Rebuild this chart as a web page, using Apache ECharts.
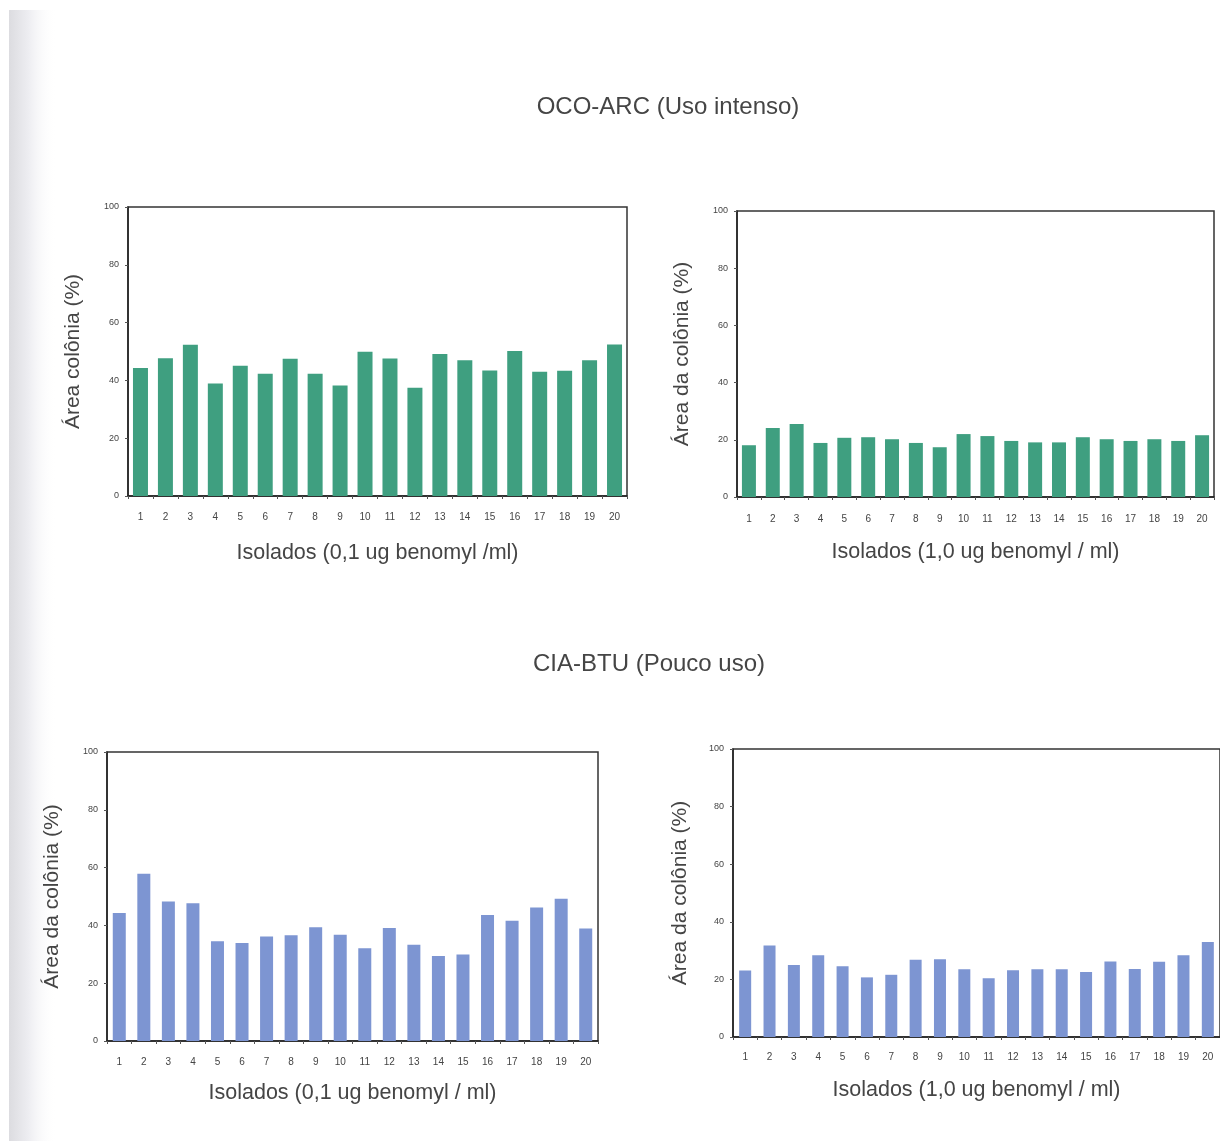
<!DOCTYPE html>
<html>
<head>
<meta charset="utf-8">
<script src="https://cdn.jsdelivr.net/npm/echarts@6/dist/echarts.min.js"></script>
<style>
html,body{margin:0;padding:0;background:#fff;}
#chart{width:1220px;height:1141px;}
</style>
</head>
<body>
<div id="chart"></div>
<script>
var categories = ['1','2','3','4','5','6','7','8','9','10','11','12','13','14','15','16','17','18','19','20'];
var yTicks = [0, 20, 40, 60, 80, 100];

var ocoArc01 = [44.3, 47.7, 52.3, 38.9, 45.1, 42.3, 47.5, 42.3, 38.2, 49.9, 47.6, 37.5, 49.1, 47.0, 43.4, 50.2, 43.0, 43.3, 47.0, 52.4];
var ocoArc10 = [18.1, 24.1, 25.5, 18.9, 20.7, 20.9, 20.2, 18.9, 17.4, 22.0, 21.3, 19.6, 19.1, 19.1, 20.9, 20.2, 19.6, 20.2, 19.6, 21.6];
var ciaBtu01 = [44.3, 57.9, 48.3, 47.7, 34.5, 33.9, 36.2, 36.6, 39.4, 36.8, 32.1, 39.1, 33.3, 29.4, 29.9, 43.6, 41.6, 46.2, 49.2, 38.9];
var ciaBtu10 = [23.1, 31.8, 25.0, 28.4, 24.6, 20.7, 21.6, 26.8, 27.0, 23.5, 20.4, 23.2, 23.5, 23.5, 22.6, 26.2, 23.6, 26.1, 28.4, 33.0];

var sectionTitles = ['OCO-ARC (Uso intenso)', 'CIA-BTU (Pouco uso)'];
var xNames = ['Isolados (0,1 ug benomyl /ml)', 'Isolados (1,0 ug benomyl / ml)', 'Isolados (0,1 ug benomyl / ml)', 'Isolados (1,0 ug benomyl / ml)'];
var yNames = ['Área colônia (%)', 'Área da colônia (%)', 'Área da colônia (%)', 'Área da colônia (%)'];

var GREEN = '#3f9f80';
var BLUE = '#7d95d2';
var FONT = 'Liberation Sans, Arial, sans-serif';

var grids = [
  {left:128, top:207, width:499, height:289},
  {left:737, top:211, width:477, height:286},
  {left:107, top:752, width:491, height:289},
  {left:733, top:749, width:490, height:288}
];
var xGaps = [46, 44, 41, 42];
var yGaps = [44, 44, 44, 42];
var xLabelMargins = [16, 17, 16, 15];
var barWidths = [15, 14, 13, 12];
var dataSets = [ocoArc01, ocoArc10, ciaBtu01, ciaBtu10];
var colors = [GREEN, GREEN, BLUE, BLUE];

var option = {
  backgroundColor: '#ffffff',
  animation: false,
  graphic: [{
    type: 'rect',
    shape: {x: 9, y: 10, width: 48, height: 1131},
    style: {
      fill: new echarts.graphic.LinearGradient(0, 0, 1, 0, [
        {offset: 0, color: '#dcdce0'},
        {offset: 0.4, color: '#ededf1'},
        {offset: 1, color: 'rgba(255,255,255,0)'}
      ])
    },
    z: -10
  }],
  title: [
    {text: sectionTitles[0], left: 663, top: 90, textAlign: 'center',
     textStyle: {fontFamily: FONT, fontSize: 24, fontWeight: 'normal', color: '#454545'}},
    {text: sectionTitles[1], left: 644, top: 647, textAlign: 'center',
     textStyle: {fontFamily: FONT, fontSize: 24, fontWeight: 'normal', color: '#454545'}}
  ],
  grid: grids.map(function (g) {
    return {left: g.left, top: g.top, width: g.width, height: g.height,
      show: true, borderColor: '#333', borderWidth: 1.5, backgroundColor: 'transparent', containLabel: false};
  }),
  xAxis: grids.map(function (g, i) {
    return {
      type: 'category', gridIndex: i, data: categories,
      name: xNames[i], nameLocation: 'middle', nameGap: xGaps[i],
      nameTextStyle: {fontFamily: FONT, fontSize: 21.5, color: '#454545'},
      axisLine: {lineStyle: {color: '#222', width: 1.5}},
      axisTick: {show: true, length: 3, lineStyle: {color: '#555'}},
      axisLabel: {fontFamily: FONT, fontSize: 10, color: '#444', margin: xLabelMargins[i], interval: 0},
      splitLine: {show: false}
    };
  }),
  yAxis: grids.map(function (g, i) {
    return {
      type: 'value', gridIndex: i, min: yTicks[0], max: yTicks[yTicks.length - 1], interval: 20,
      name: yNames[i], nameLocation: 'middle', nameGap: yGaps[i], nameRotate: 90,
      nameTextStyle: {fontFamily: FONT, fontSize: 21, color: '#454545'},
      axisLine: {show: true, lineStyle: {color: '#222', width: 1.5}},
      axisTick: {show: true, length: 3, lineStyle: {color: '#555'}},
      axisLabel: {fontFamily: FONT, fontSize: 9, color: '#444', margin: 9},
      splitLine: {show: false}
    };
  }),
  series: dataSets.map(function (d, i) {
    return {
      type: 'bar', xAxisIndex: i, yAxisIndex: i, data: d,
      barWidth: barWidths[i],
      itemStyle: {color: colors[i]}
    };
  })
};

var chart = echarts.init(document.getElementById('chart'), null, {renderer: 'canvas'});
chart.setOption(option);
</script>
</body>
</html>
